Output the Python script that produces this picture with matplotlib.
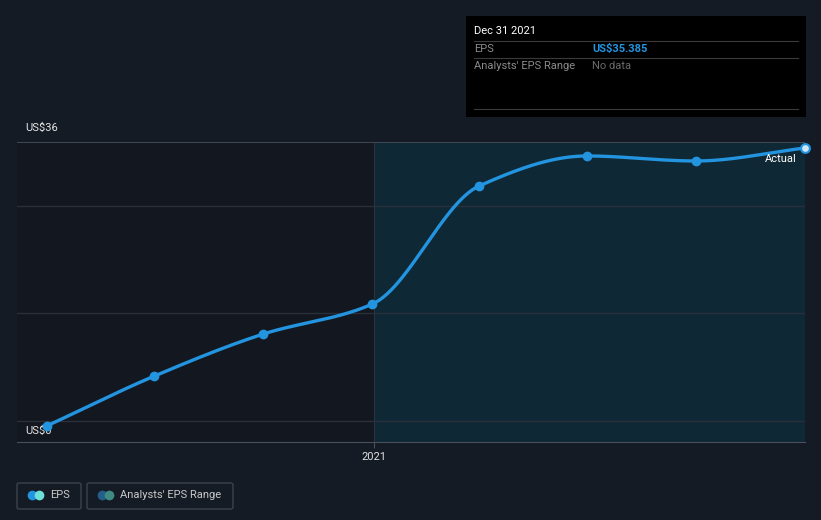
import numpy as np
import matplotlib.pyplot as plt
import matplotlib.dates as mdates
from matplotlib.patches import Rectangle, FancyBboxPatch

plt.rcParams['font.family'] = ['Roboto', 'DejaVu Sans']

dates = ['2020-03-31', '2020-06-30', '2020-09-30', '2020-12-31',
         '2021-03-31', '2021-06-30', '2021-09-30', '2021-12-31']
eps = [-0.65, 5.83, 11.28, 15.17, 30.46, 34.35, 33.70, 35.385]
y_labels = ['US$0', 'US$36']

bg = '#151b25'
blue = '#2394df'

x = mdates.datestr2num(dates)
y = np.array(eps)


def monotone(xs, ys, n=400):
    # Fritsch-Carlson monotone cubic, just for drawing the smooth line
    h = np.diff(xs)
    d = np.diff(ys) / h
    m = np.zeros_like(ys)
    m[0], m[-1] = d[0], d[-1]
    for i in range(1, len(ys) - 1):
        if d[i - 1] * d[i] <= 0:
            m[i] = 0
        else:
            w1 = 2 * h[i] + h[i - 1]
            w2 = h[i] + 2 * h[i - 1]
            m[i] = (w1 + w2) / (w1 / d[i - 1] + w2 / d[i])
    xx = np.linspace(xs[0], xs[-1], n)
    idx = np.clip(np.searchsorted(xs, xx) - 1, 0, len(xs) - 2)
    t = (xx - xs[idx]) / h[idx]
    h00 = 2 * t**3 - 3 * t**2 + 1
    h10 = t**3 - 2 * t**2 + t
    h01 = -2 * t**3 + 3 * t**2
    h11 = t**3 - t**2
    yy = h00 * ys[idx] + h10 * h[idx] * m[idx] + h01 * ys[idx + 1] + h11 * h[idx] * m[idx + 1]
    return xx, yy


fig = plt.figure(figsize=(8.21, 5.2), dpi=100, facecolor=bg)
ax = fig.add_axes([17 / 821, 78 / 520, 788 / 821, 300 / 520])
ax.set_facecolor('#13171f')

x0 = mdates.datestr2num('2020-03-06')
split = mdates.datestr2num('2021-01-01')
ax.set_xlim(x0, x[-1])
ax.set_ylim(-2.72, 36.16)

ax.axvspan(split, x[-1], color='#0e2a38', alpha=0.9, lw=0)
ax.axvline(split, color='#2a323c', lw=0.8)

for g in [0, 14, 27.9]:
    ax.axhline(g, color='#2a3039', lw=1)
ax.axhline(36.16, color='#4a505a', lw=1.2)

xx, yy = monotone(x, y)
ax.plot(xx, yy, color=blue, lw=2.4, solid_capstyle='round', zorder=3)
ax.scatter(x[:-1], y[:-1], s=36, color=blue, zorder=4)
ax.scatter(x[-1:], y[-1:], s=40, facecolor='#cfe6f7', edgecolor=blue, lw=1.5, zorder=5, clip_on=False)

for s in ['left', 'right', 'top']:
    ax.spines[s].set_visible(False)
ax.spines['bottom'].set_color('#4a505a')
ax.set_yticks([])
ax.set_xticks([split])
ax.set_xticklabels(['2021'])
ax.tick_params(axis='x', colors='#4a505a', length=4, labelcolor='#e0e0e0', labelsize=8)

ax.text(x0 + 7, 37.3, y_labels[1], color='#e6e6e6', fontsize=8, va='bottom')
ax.text(x0 + 7, -0.6, y_labels[0], color='#e6e6e6', fontsize=8, va='top')
ax.text(x[-1] - 7, 34.0, 'Actual', color='#ffffff', fontsize=8, ha='right', va='center')

# tooltip box
fig.patches.append(Rectangle((466 / 821, 1 - 117 / 520), 340 / 821, 101 / 520,
                             transform=fig.transFigure, facecolor='#000000', edgecolor='none'))
for yl in [41, 58, 109]:
    fig.add_artist(plt.Line2D([474 / 821, 798 / 821], [1 - yl / 520] * 2,
                              transform=fig.transFigure, color='#3a3a3a', lw=0.8))
fig.text(474 / 821, 1 - 31 / 520, 'Dec 31 2021', color='#ffffff', fontsize=8, va='center')
fig.text(474 / 821, 1 - 49 / 520, 'EPS', color='#8a8a8a', fontsize=8, va='center')
fig.text(592 / 821, 1 - 49 / 520, 'US$35.385', color=blue, fontsize=8, va='center', fontweight='bold')
fig.text(474 / 821, 1 - 66 / 520, "Analysts' EPS Range", color='#8a8a8a', fontsize=8, va='center')
fig.text(592 / 821, 1 - 66 / 520, 'No data', color='#6a6a6a', fontsize=8, va='center')

# legend
def legend_item(x_px, w_px, c1, c2, label):
    fig.patches.append(FancyBboxPatch((x_px / 821, 1 - 509 / 520), w_px / 821, 26 / 520,
                                      boxstyle='round,pad=0,rounding_size=0.003',
                                      transform=fig.transFigure, facecolor='none',
                                      edgecolor='#3c424c', lw=1))
    fig.add_artist(plt.Line2D([(x_px + 15) / 821], [1 - 495 / 520], transform=fig.transFigure,
                              marker='o', ms=7, color=c1, mec='none'))
    fig.add_artist(plt.Line2D([(x_px + 22) / 821], [1 - 495 / 520], transform=fig.transFigure,
                              marker='o', ms=7, color=c2, mec='none'))
    fig.text((x_px + 33) / 821, 1 - 495 / 520, label, color='#c8c8c8', fontsize=8, va='center')


legend_item(17, 64, '#2394df', '#6de0d8', 'EPS')
legend_item(87, 146, '#245f8a', '#3f8a82', "Analysts' EPS Range")

fig.savefig('out.png', dpi=100, facecolor=bg)
